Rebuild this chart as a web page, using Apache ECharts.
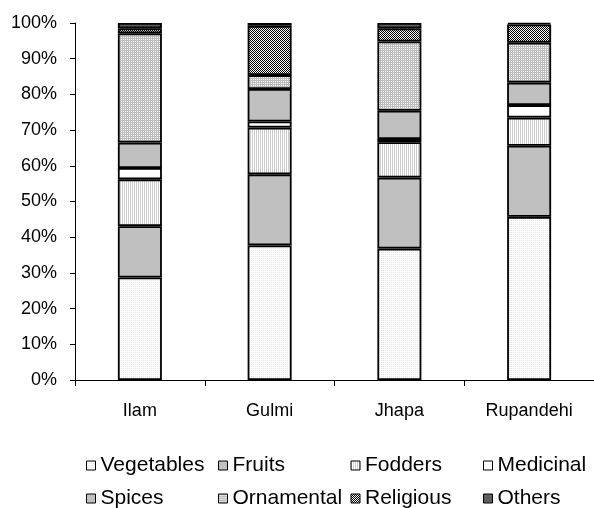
<!DOCTYPE html>
<html>
<head>
<meta charset="utf-8">
<script src="https://cdn.jsdelivr.net/npm/echarts@6/dist/echarts.min.js"></script>
<style>
  html, body { margin: 0; padding: 0; background: #fff; }
  #chart { width: 594px; height: 508px; }
</style>
</head>
<body>
<div id="chart"></div>
<script>
// Districts and share of each plant group (% of species)
const categories = ['Ilam', 'Gulmi', 'Jhapa', 'Rupandehi'];
const vegetables = [28.7, 37.7, 36.8, 45.7];
const fruits     = [14.4, 19.9, 19.9, 19.9];
const fodders    = [13.1, 13.1, 9.9, 7.9];
const medicinal  = [3.2, 1.7, 0.9, 3.5];
const spices     = [7.1, 9.1, 7.9, 6.3];
const ornamental = [30.6, 3.9, 19.4, 11.2];
const religious  = [1.4, 13.8, 3.7, 5.1];
const others     = [1.5, 0.8, 1.5, 0.4];
const yTickValues = [0, 10, 20, 30, 40, 50, 60, 70, 80, 90, 100];

const FONT = "'Liberation Sans', Arial, sans-serif";

// Small repeating tiles used as hatch fills
function tile(rows) {
  const h = rows.length, w = rows[0].length;
  const c = document.createElement('canvas');
  c.width = w; c.height = h;
  const ctx = c.getContext('2d');
  for (let y = 0; y < h; y++) {
    for (let x = 0; x < w; x++) {
      ctx.fillStyle = rows[y][x];
      ctx.fillRect(x, y, 1, 1);
    }
  }
  return { image: c, repeat: 'repeat' };
}
const W = '#ffffff';
const fills = {
  Vegetables: tile([[W, '#e6e6e6'], [W, W]]),
  Fruits: '#c0c0c0',
  Fodders: tile([['#cccccc', W], ['#cccccc', W]]),
  Medicinal: '#ffffff',
  Spices: '#c0c0c0',
  Ornamental: tile([['#bcbcbc', '#bcbcbc'], ['#bcbcbc', W]]),
  Religious: tile([['#000000', W], [W, '#000000']]),
  Others: '#5f5f5f'
};

const groups = [
  ['Vegetables', vegetables], ['Fruits', fruits], ['Fodders', fodders],
  ['Medicinal', medicinal], ['Spices', spices], ['Ornamental', ornamental],
  ['Religious', religious], ['Others', others]
];

const series = groups.map(([name, values]) => ({
  name: name,
  type: 'bar',
  stack: 'share',
  barWidth: 44,
  data: values,
  itemStyle: { color: fills[name], borderColor: '#000', borderWidth: 1.8 },
  emphasis: { disabled: true }
}));

// Legend laid out in a 4 x 2 grid of fixed columns
const legendCols = [86, 218, 350.5, 483];
const legendRows = [455, 488];
const legends = groups.map(([name], i) => ({
  data: [name],
  left: legendCols[i % 4],
  top: legendRows[Math.floor(i / 4)],
  padding: 0,
  icon: 'rect',
  itemWidth: 9,
  itemHeight: 9,
  selectedMode: false,
  itemStyle: { borderColor: '#000', borderWidth: 1 },
  textStyle: { fontFamily: FONT, fontSize: 21, color: '#000', lineHeight: 21 }
}));

const chart = echarts.init(document.getElementById('chart'), null, { renderer: 'canvas' });
chart.setOption({
  animation: false,
  backgroundColor: '#fff',
  grid: { left: 75, right: 0, top: 23, bottom: 128, containLabel: false },
  legend: legends,
  xAxis: {
    type: 'category',
    data: categories,
    axisLine: { lineStyle: { color: '#000', width: 1 } },
    axisTick: { show: true, length: 6, lineStyle: { color: '#000' } },
    axisLabel: { fontFamily: FONT, fontSize: 18, color: '#000', margin: 22 }
  },
  yAxis: {
    type: 'value',
    min: yTickValues[0],
    max: yTickValues[yTickValues.length - 1],
    interval: yTickValues[1] - yTickValues[0],
    axisLine: { show: true, lineStyle: { color: '#000', width: 1 } },
    axisTick: { show: true, length: 5, lineStyle: { color: '#000' } },
    splitLine: { show: false },
    axisLabel: { fontFamily: FONT, fontSize: 18, color: '#000', margin: 18, formatter: '{value}%' }
  },
  series: series
});
</script>
</body>
</html>
